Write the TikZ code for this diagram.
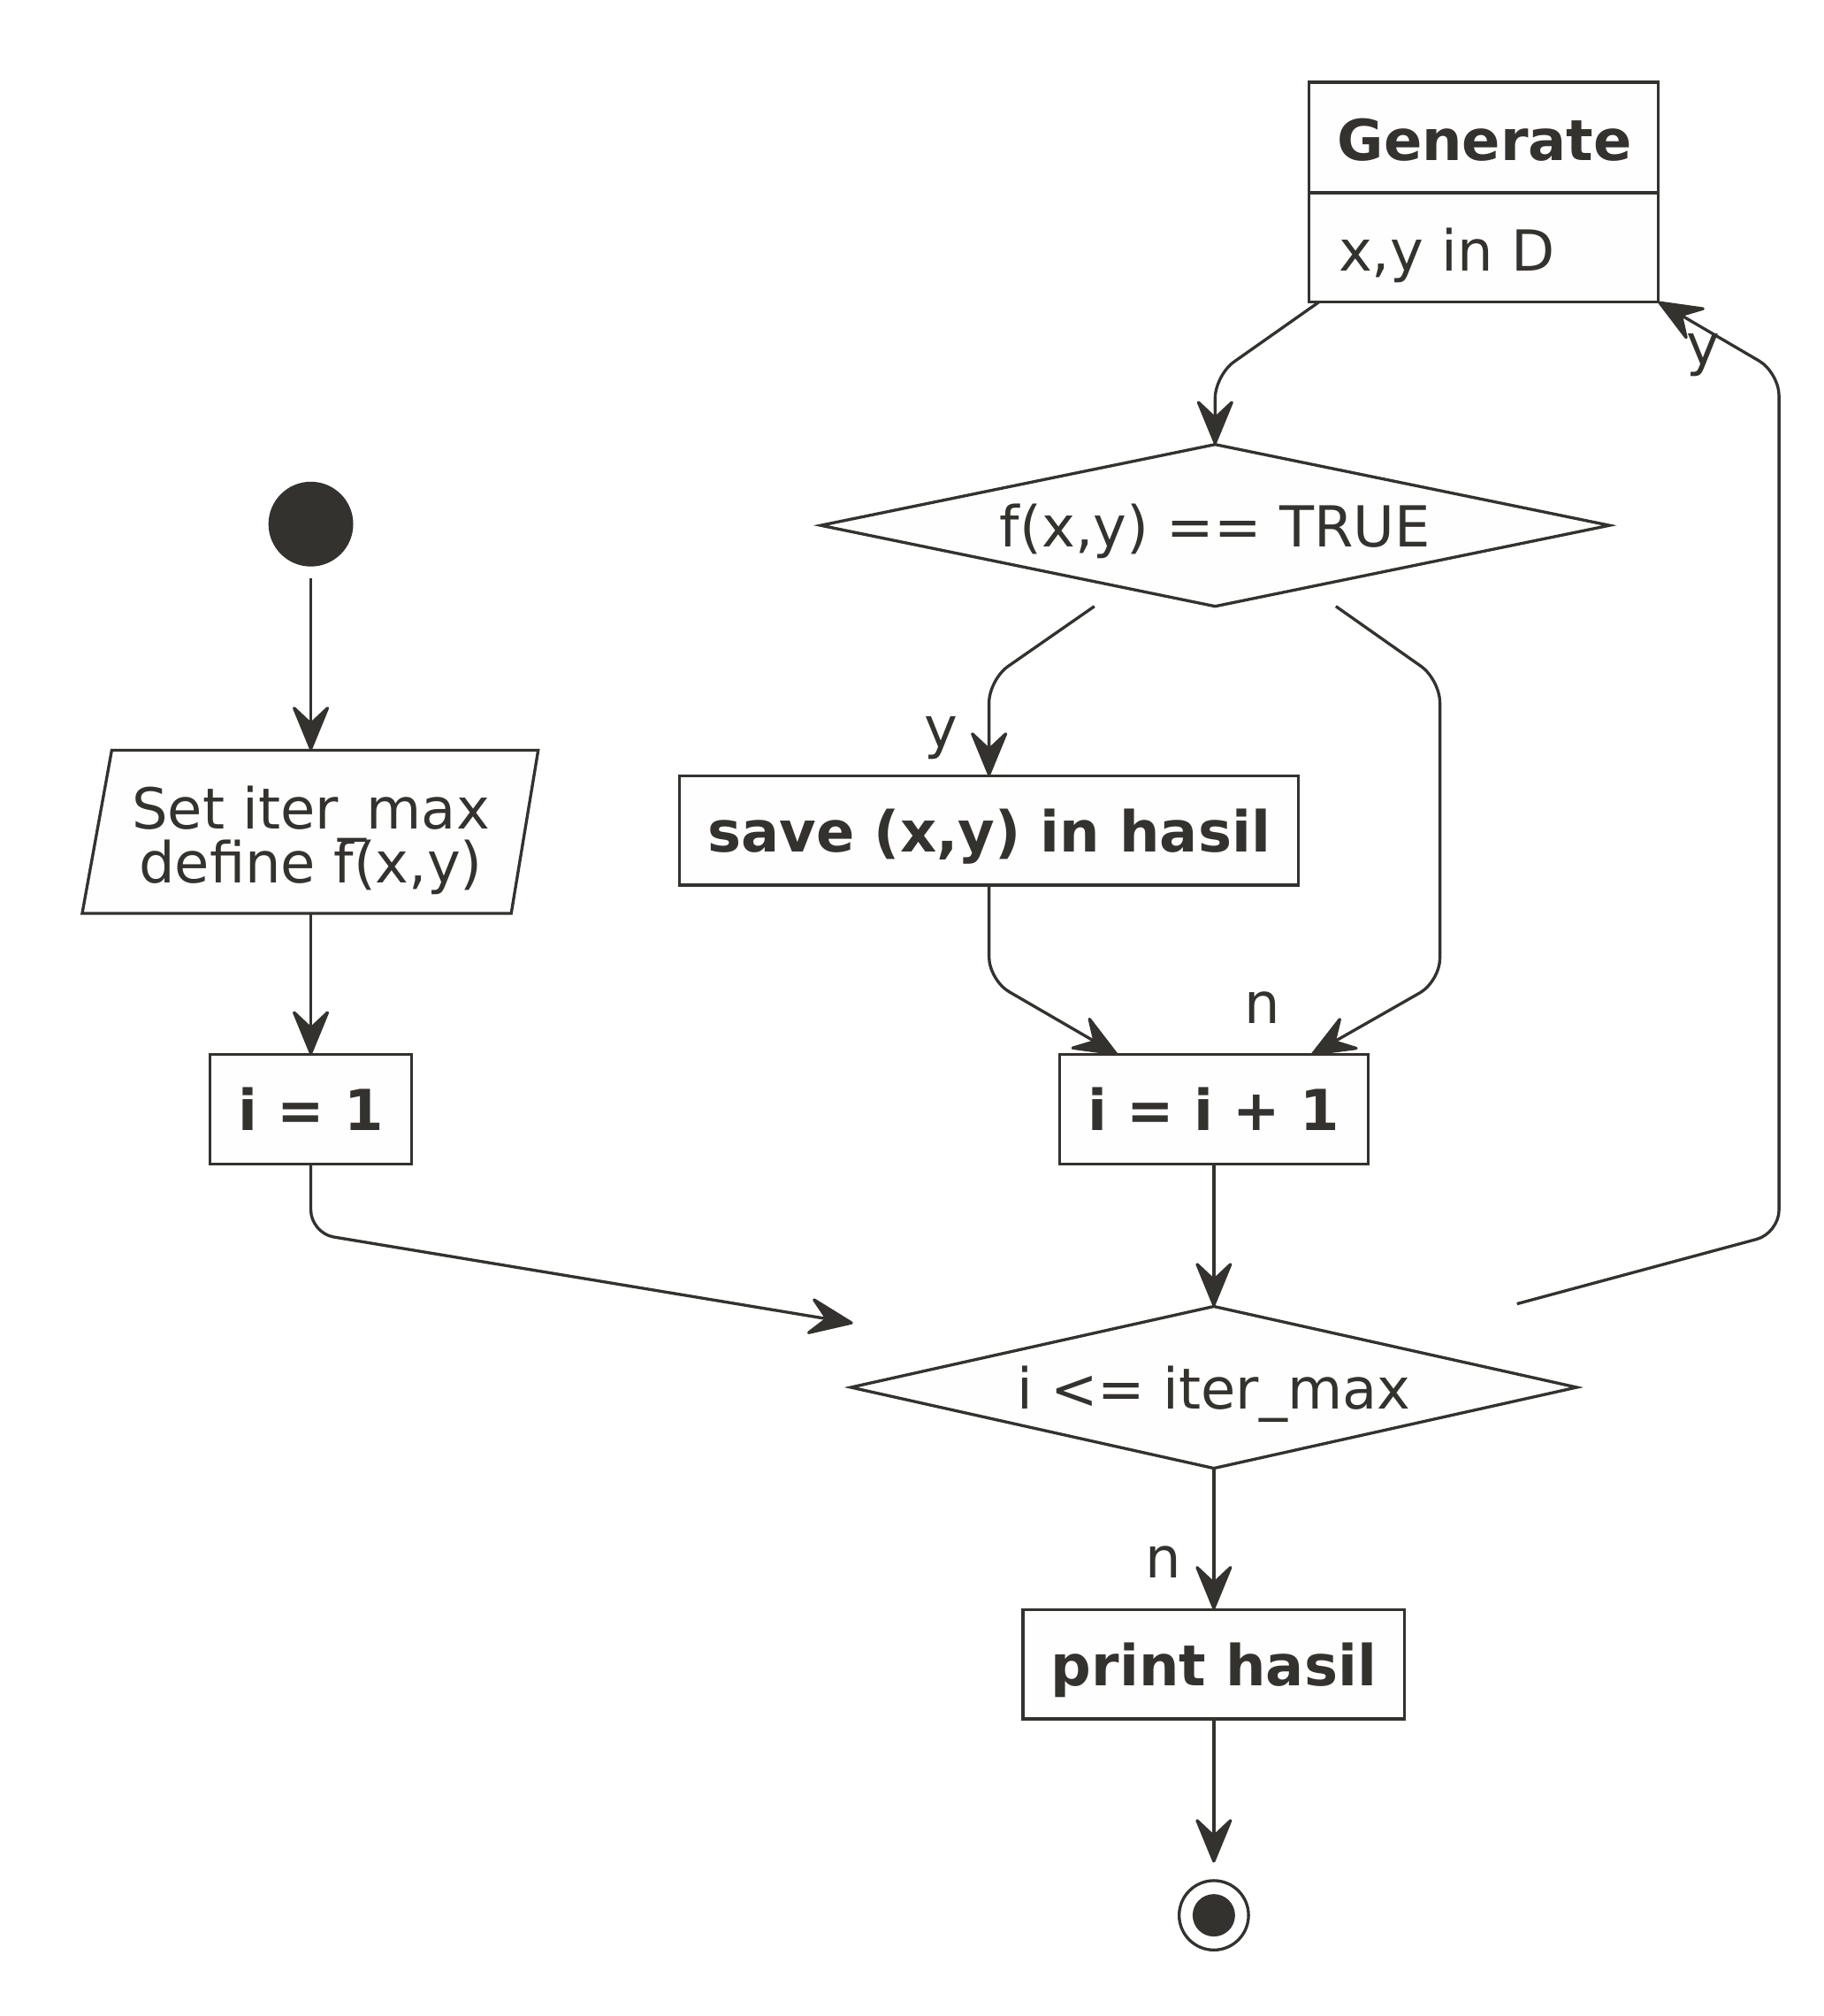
\documentclass[tikz,border=0pt]{standalone}
\usepackage{fontspec}
\setmainfont{DejaVu Sans}
\usetikzlibrary{arrows.meta,shapes.geometric}
\definecolor{ink}{HTML}{33322E}
\definecolor{boxfill}{HTML}{FEFEFE}
\tikzset{
  conn/.style={draw=ink, line width=2.3pt, rounded corners=18pt,
    -{Stealth[length=39pt,width=32pt,inset=15pt,round]}},
  boxst/.style={draw=ink, fill=boxfill, line width=2.3pt, inner sep=0pt, outer sep=0pt,
    font=\fontsize{44}{44}\selectfont\bfseries, text=ink, text height=33pt, text depth=0pt},
  decis/.style={diamond, draw=ink, fill=boxfill, line width=2.3pt, inner sep=0pt, outer sep=0pt,
    font=\fontsize{44}{44}\selectfont, text=ink, text height=33pt, text depth=0pt, aspect=4.8},
  txt/.style={font=\fontsize{44}{42}\selectfont, text=ink, inner sep=0pt, anchor=base},
}
\begin{document}
\begin{tikzpicture}[x=1pt,y=-1pt]
\useasboundingbox (0,0) rectangle (1420,1569.4);

% start
\node[circle, fill=ink, minimum size=66pt, inner sep=0pt, outer sep=0pt] (start) at (242,408) {};

% input parallelogram
\draw[draw=ink, fill=boxfill, line width=2.3pt, line join=miter] (87,584) -- (419,584) -- (398,711) -- (64,711) -- cycle;
\node[minimum width=300pt, minimum height=127pt, inner sep=0pt, outer sep=0pt] (para) at (242,647.5) {};
\node[txt] (paraA) at (242,645) {Set iter\_max};
\node[txt] (paraB) at (242,687) {define f(x,y)};

% boxes
\node[boxst, minimum width=157pt, minimum height=85pt] (i1) at (242,863.5) {i = 1};
\node[boxst, minimum width=482pt, minimum height=85pt] (save) at (770,646.5) {save (x,y) in hasil};
\node[boxst, minimum width=240pt, minimum height=85pt] (inc) at (945,863.5) {i = i + 1};
\node[boxst, minimum width=297pt, minimum height=85pt] (print) at (945,1295.5) {print hasil};

% generate box
\node[draw=ink, fill=boxfill, line width=2.3pt, minimum width=272pt, minimum height=171pt, inner sep=0pt, outer sep=0pt] (gen) at (1155,149.5) {};
\draw[draw=ink, line width=2.3pt] (gen.west |- 0,150) -- (gen.east |- 0,150);
\node[txt, anchor=base west, font=\fontsize{44}{44}\selectfont\bfseries] (genT) at (1041,125) {Generate};
\node[txt, anchor=base west] (genB) at (1042,211) {x,y in D};

% decisions
\node[decis, minimum width=614pt, minimum height=126pt] (d1) at (946,409) {f(x,y) == TRUE};
\node[decis, minimum width=565pt, minimum height=126pt] (d2) at (945,1080) {i <= iter\_max};

% end
\node[circle, draw=ink, fill=boxfill, line width=2.3pt, minimum size=54pt, inner sep=0pt, outer sep=0pt] (endn) at (945,1491) {};
\node[circle, fill=ink, minimum size=33pt, inner sep=0pt] (endin) at (endn) {};

% free ends
\coordinate (c1) at (664,1030);
\coordinate (c2) at (1181,1015);

% connectors
\draw[conn] ([yshift=-9pt]start.south) -- (para.north);
\draw[conn] (para.south) -- (i1.north);
\draw[conn] (i1.south) -- (242,960) -- (c1);
\draw[conn] ([xshift=8pt]gen.south west) -- (946,292) -- (d1.north);
\draw[conn] ([xshift=-94pt]d1.south) -- (770,529) -- (save.north);
\draw[conn] ([xshift=94pt]d1.south) -- (1121,529) -- (1121,764) -- ([xshift=76pt]inc.north);
\draw[conn] (save.south) -- (770,763) -- ([xshift=-75pt]inc.north);
\draw[conn] (inc.south) -- (d2.north);
\draw[conn] (c2) -- (1385,960) -- (1385,290) -- (gen.south east);
\draw[conn] (d2.south) -- (print.north);
\draw[conn] (print.south) -- ([yshift=14pt]endn.north);

% labels
\node[txt] (ly1) at (733,582) {y};
\node[txt] (ln1) at (983,797) {n};
\node[txt] (ln2) at (906,1228) {n};
\node[txt] (ly2) at (1326,284) {y};
\end{tikzpicture}
\end{document}
